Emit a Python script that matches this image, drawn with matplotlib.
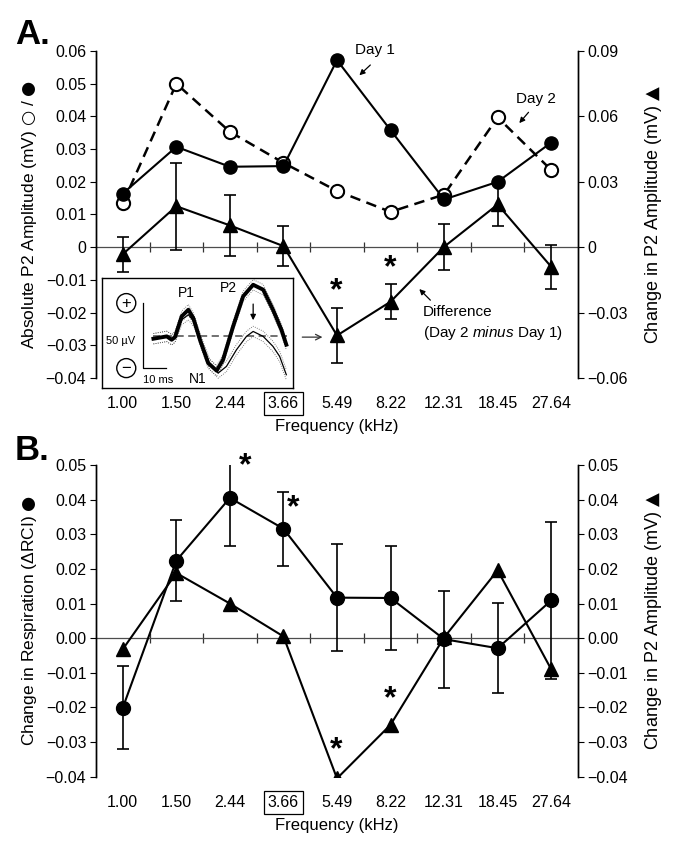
import numpy as np
import matplotlib.pyplot as plt
from matplotlib.ticker import FuncFormatter

plt.rcParams['font.family'] = ['Liberation Sans', 'DejaVu Sans']
plt.rcParams['font.size'] = 11
plt.rcParams['mathtext.fontset'] = 'custom'
plt.rcParams['mathtext.rm'] = 'DejaVu Sans'
plt.rcParams['mathtext.it'] = 'Liberation Sans:italic'

#-------- data --------
freqs = ['1.00', '1.50', '2.44', '3.66', '5.49', '8.22', '12.31', '18.45', '27.64']

# panel A, absolute P2 amplitude (mV)
day1 = [0.0164, 0.0307, 0.0246, 0.0248, 0.0572, 0.0358, 0.0146, 0.0200, 0.0320]
day2 = [0.0134, 0.0500, 0.0353, 0.0258, 0.0172, 0.0108, 0.0161, 0.0397, 0.0236]

# change in P2 amplitude (mV), day 2 minus day 1
p2_change = [-0.0032, 0.0188, 0.0100, 0.0005, -0.0405, -0.0250, 0.0002, 0.0196, -0.0090]
p2_change_err = [0.0080, 0.0200, 0.0140, 0.0091, 0.0128, 0.0080, 0.0105, 0.0100, 0.0100]

# panel B, change in respiration (delta RCI)
rci_change = [-0.0201, 0.0224, 0.0405, 0.0316, 0.0117, 0.0116, -0.0003, -0.0029, 0.0109]
rci_err = [0.0120, 0.0117, 0.0139, 0.0107, 0.0154, 0.0151, 0.0140, 0.0130, 0.0227]

# inset waveform (ms, uV)
wave_t_thick = [0, 6, 8.2, 9.7, 12.7, 15.7, 17.9, 20.9, 24.6, 28.4, 31.3, 35.8, 40.3, 44.8, 49.3, 53.7, 57.5, 59.7]
wave_thick = [-1.8, 0, -2.6, -0.5, 15.4, 20.5, 14.1, -2.6, -20.5, -26.4, -17.9, 7.7, 30.8, 39.7, 35.9, 20.5, 5.1, -6.4]
wave_t_thin = [0, 6, 8.2, 9.7, 12.7, 15.7, 18.7, 21.6, 25.4, 29.1, 32.8, 37.3, 41.8, 44.8, 49.3, 53.7, 56.7, 59.7]
wave_thin = [-1.8, 0, -2.6, -0.5, 12.8, 16.7, 10.3, -5.1, -21.8, -28.2, -23.1, -10.3, 0, 3.8, 0, -7.7, -15.4, -29.5]
wave_se = 4.0

#------------------------------------------
x = np.arange(len(freqs))
W, H = 679, 848
fig = plt.figure(figsize=(W/100, H/100), dpi=100)

OPEN = '$\\mathrm{\u25CB}$'
DOT = '$\\mathrm{\u25CF}$'
TRI = '$\\mathrm{\u25B2}$'


def fmt_zero(v, pos):
    if abs(v) < 1e-9:
        return '0'
    return ('%.2f' % v).replace('-', '\u2212')


def fmt_two(v, pos):
    if abs(v) < 1e-9:
        v = 0.0
    return ('%.2f' % v).replace('-', '\u2212')


def style_axes(ax, ax2, zero_frac, yl, yr):
    for a in (ax, ax2):
        a.spines['top'].set_visible(False)
        a.spines['bottom'].set_visible(False)
        a.spines['left'].set_linewidth(1.0)
        a.spines['right'].set_linewidth(1.0)
    ax.set_xlim(-0.5, len(freqs) - 0.5)
    ax.set_ylim(*yl)
    ax2.set_ylim(*yr)
    ax.set_xticks(x, freqs)
    ax.tick_params(axis='x', length=0, pad=13, labelsize=11.5)
    ax.tick_params(axis='y', direction='out', length=4, labelsize=11.5, pad=3)
    ax2.tick_params(axis='y', direction='out', length=4, labelsize=11.5, pad=3)
    ax.get_xticklabels()[3].set_bbox(dict(boxstyle='square,pad=0.25', fc='white', ec='black', lw=0.9))
    # zero line with ticks between categories
    sec = ax.secondary_xaxis(zero_frac)
    sec.set_xticks(x[:-1] + 0.5)
    sec.tick_params(direction='inout', length=7, width=0.9, labelbottom=False, labeltop=False, color='0.2')
    for side in ('bottom', 'top'):
        sec.spines[side].set_color('0.3')
        sec.spines[side].set_linewidth(0.9)
    ax.set_xlabel('Frequency (kHz)', fontsize=12, labelpad=6)


#=============== Panel A ===============
axA = fig.add_axes([96/W, 1 - 378/H, (578 - 96)/W, (378 - 51)/H])
axA2 = axA.twinx()
style_axes(axA, axA2, 0.4, (-0.04, 0.06), (-0.06, 0.09))
axA.set_yticks(np.arange(-0.04, 0.0601, 0.01))
axA.yaxis.set_major_formatter(FuncFormatter(fmt_zero))
axA2.set_yticks(np.arange(-0.06, 0.0901, 0.03))
axA2.yaxis.set_major_formatter(FuncFormatter(fmt_zero))

axA.plot(x, day2, color='black', lw=1.8, dashes=(4.2, 2.6), marker='o', ms=9.5,
         mfc='white', mec='black', mew=1.5, zorder=3)
axA.plot(x, day1, color='black', lw=1.5, marker='o', ms=9.5,
         mfc='black', mec='black', zorder=4)
axA2.errorbar(x, p2_change, yerr=p2_change_err, color='black', lw=1.5, marker='^', ms=10,
              elinewidth=1.2, capsize=4, capthick=1.2, zorder=4)

axA.set_ylabel('Absolute P2 Amplitude (mV) ' + OPEN + ' / ' + DOT, fontsize=12.5)
axA.yaxis.set_label_coords(-0.118, 0.5)
axA2.set_ylabel('Change in P2 Amplitude (mV) ' + TRI, fontsize=13)
axA2.yaxis.set_label_coords(1.135, 0.5)

for xs, ys in [(3.99, -0.0135), (5.0, -0.0065)]:
    axA.text(xs, ys, '*', ha='center', va='center', fontsize=23, fontweight='bold')

axA.text(4.71, 0.0602, 'Day 1', ha='center', va='center', fontsize=11)
axA.annotate('', xy=(4.38, 0.0520), xytext=(4.66, 0.0563),
             arrowprops=dict(arrowstyle='-|>', color='black', lw=0.9, mutation_scale=8))
axA.text(7.71, 0.0453, 'Day 2', ha='center', va='center', fontsize=11)
axA.annotate('', xy=(7.37, 0.0373), xytext=(7.61, 0.0419),
             arrowprops=dict(arrowstyle='-|>', color='black', lw=0.9, mutation_scale=8))
axA.text(5.61, -0.0199, 'Difference', ha='left', va='center', fontsize=11)
axA.text(5.61, -0.0262, '(Day 2 $\\it{minus}$ Day 1)', ha='left', va='center', fontsize=11)
axA.annotate('', xy=(5.50, -0.0122), xytext=(5.78, -0.0168),
             arrowprops=dict(arrowstyle='-|>', color='black', lw=0.9, mutation_scale=8))
axA.annotate('', xy=(3.78, -0.0275), xytext=(3.30, -0.0275),
             arrowprops=dict(arrowstyle='->', color='0.2', lw=0.9, mutation_scale=10))

fig.text(15/W, 1 - 34/H, 'A.', fontsize=25, fontweight='bold', va='center', ha='left')

# inset
axI = fig.add_axes([102/W, 1 - 388/H, (293 - 102)/W, (388 - 278)/H])
axI.set_xlim(-23.1, 62.7)
axI.set_ylim(-39.7, 44.9)
axI.set_xticks([])
axI.set_yticks([])
for s in axI.spines.values():
    s.set_linewidth(1.0)
axI.plot([0, 60], [0, 0], color='0.4', lw=1.3, ls=(0, (4, 2.5)))
th = np.array(wave_thick)
tn = np.array(wave_thin)
for sgn in (-1, 1):
    axI.plot(wave_t_thick, th + sgn*wave_se, color='0.35', lw=0.6, ls=':')
    axI.plot(wave_t_thin, tn + sgn*wave_se, color='0.35', lw=0.6, ls=':')
axI.plot(wave_t_thin, wave_thin, color='black', lw=0.9)
axI.plot(wave_t_thick, wave_thick, color='black', lw=2.8)
axI.annotate('', xy=(44.8, 10.3), xytext=(44.8, 27.0),
             arrowprops=dict(arrowstyle='-|>', color='black', lw=0.9, mutation_scale=8))
axI.plot([-4.5, -4.5, 5.5], [25.6, -24.4, -24.4], color='black', lw=0.9)
axI.text(-14.9, -3.8, '50 \u00b5V', ha='center', va='center', fontsize=8)
axI.text(2.2, -33.8, '10 ms', ha='center', va='center', fontsize=8)
axI.text(14.9, 33.3, 'P1', ha='center', va='center', fontsize=10)
axI.text(33.6, 37.2, 'P2', ha='center', va='center', fontsize=10)
axI.text(20.1, -32.8, 'N1', ha='center', va='center', fontsize=10)
for yy, sym in [(25.6, '+'), (-24.4, '\u2212')]:
    axI.text(-12.2, yy, sym, ha='center', va='center', fontsize=12,
             bbox=dict(boxstyle='circle,pad=0.12', fc='white', ec='black', lw=1.0))

#=============== Panel B ===============
axB = fig.add_axes([96/W, 1 - 776.7/H, (578 - 96)/W, (776.7 - 465)/H])
axB2 = axB.twinx()
style_axes(axB, axB2, 4/9, (-0.04, 0.05), (-0.04, 0.05))
axB.set_yticks(np.arange(-0.04, 0.0501, 0.01))
axB.yaxis.set_major_formatter(FuncFormatter(fmt_two))
axB2.set_yticks(np.arange(-0.04, 0.0501, 0.01))
axB2.yaxis.set_major_formatter(FuncFormatter(fmt_two))

axB.errorbar(x, rci_change, yerr=rci_err, color='black', lw=1.5, marker='o', ms=10,
             elinewidth=1.2, capsize=4, capthick=1.2, zorder=4)
axB2.plot(x, p2_change, color='black', lw=1.5, marker='^', ms=10, zorder=4)

axB.set_ylabel('Change in Respiration (\u0394RCI) ' + DOT, fontsize=12.5)
axB.yaxis.set_label_coords(-0.118, 0.5)
axB2.set_ylabel('Change in P2 Amplitude (mV) ' + TRI, fontsize=13)
axB2.yaxis.set_label_coords(1.135, 0.5)

for xs, ys in [(2.29, 0.0497), (3.18, 0.0375), (3.99, -0.0323), (5.0, -0.0176)]:
    axB.text(xs, ys, '*', ha='center', va='center', fontsize=23, fontweight='bold')

fig.text(15/W, 1 - 450/H, 'B.', fontsize=25, fontweight='bold', va='center', ha='left')

fig.savefig('out.png', dpi=100)
